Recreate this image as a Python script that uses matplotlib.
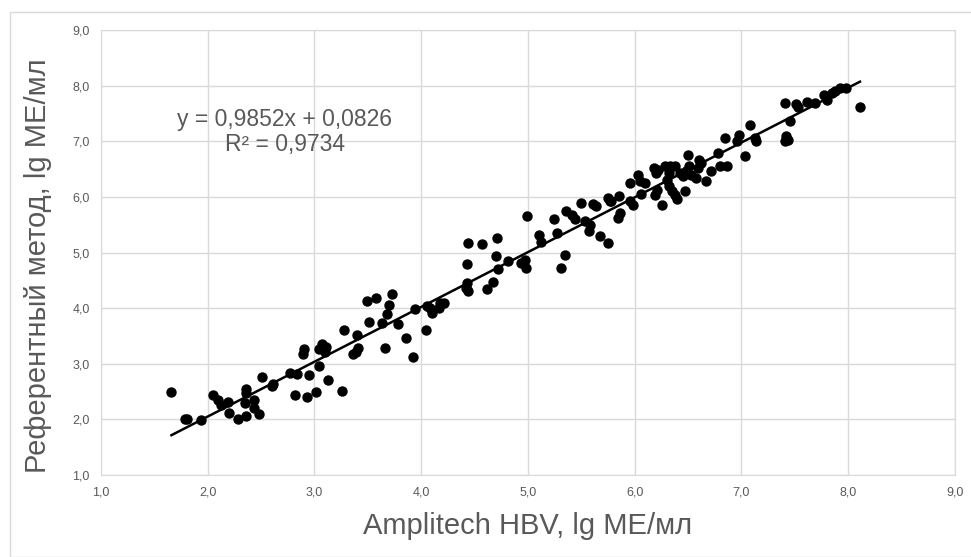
import numpy as np
import matplotlib.pyplot as plt
from matplotlib.patches import Rectangle

# Amplitech HBV (x) vs референтный метод (y), lg МЕ/мл
x = [1.66, 1.79, 1.81, 1.94, 2.05, 2.10, 2.12, 2.19, 2.20, 2.28, 2.36, 2.36, 2.36, 2.35,
     2.43, 2.43, 2.48, 2.51, 2.61, 2.60, 2.77, 2.84, 2.82, 2.93, 2.95, 3.01, 3.04, 3.13,
     3.26, 2.89, 2.90, 3.04, 3.07, 3.11, 3.10, 3.28, 3.36, 3.39, 3.41, 3.40, 3.49, 3.58,
     3.73, 3.70, 3.68, 3.51, 3.63, 3.78, 3.66, 3.86, 3.92, 4.04, 3.94, 4.05, 4.08, 4.10,
     4.18, 4.21, 4.17, 4.44, 4.57, 4.71, 4.43, 4.70, 4.72, 4.81, 4.43, 4.44, 4.42, 4.62,
     4.67, 4.99, 4.93, 4.97, 4.98, 5.10, 5.12, 5.24, 5.27, 5.35, 5.31, 5.36, 5.41, 5.44,
     5.50, 5.61, 5.64, 5.77, 5.53, 5.58, 5.57, 5.67, 5.75, 5.86, 5.84, 5.75, 5.78, 5.85,
     5.98, 5.96, 5.96, 6.03, 6.05, 6.10, 6.06, 6.19, 6.21, 6.26, 6.18, 6.22, 6.20, 6.28,
     6.33, 6.38, 6.32, 6.30, 6.32, 6.35, 6.38, 6.40, 6.42, 6.45, 6.48, 6.50, 6.51, 6.47,
     6.53, 6.57, 6.59, 6.62, 6.60, 6.67, 6.71, 6.78, 6.80, 6.86, 7.41, 7.51, 7.53, 7.61,
     7.69, 7.77, 7.80, 7.85, 7.88, 7.92, 7.98, 8.11, 7.45, 7.42, 7.44, 7.41, 7.08, 6.98,
     7.13, 7.14, 6.85, 6.96, 7.03]
y = [2.49, 2.01, 2.01, 1.99, 2.44, 2.35, 2.26, 2.32, 2.11, 2.01, 2.06, 2.54, 2.47, 2.29,
     2.35, 2.20, 2.09, 2.76, 2.64, 2.60, 2.84, 2.82, 2.44, 2.40, 2.80, 2.50, 2.96, 2.71,
     2.51, 3.18, 3.26, 3.26, 3.36, 3.30, 3.22, 3.61, 3.18, 3.22, 3.28, 3.52, 4.13, 4.19,
     4.26, 4.06, 3.90, 3.76, 3.73, 3.72, 3.29, 3.47, 3.13, 3.61, 3.99, 4.04, 4.00, 3.91,
     4.10, 4.10, 4.00, 5.18, 5.15, 5.27, 4.79, 4.93, 4.70, 4.85, 4.45, 4.31, 4.36, 4.35,
     4.47, 5.66, 4.81, 4.87, 4.73, 5.32, 5.19, 5.60, 5.36, 4.96, 4.73, 5.74, 5.68, 5.60,
     5.90, 5.87, 5.84, 5.92, 5.57, 5.50, 5.39, 5.30, 5.18, 5.72, 5.63, 5.99, 5.93, 6.01,
     5.86, 5.92, 6.25, 6.40, 6.28, 6.26, 6.05, 6.04, 6.13, 5.86, 6.52, 6.49, 6.43, 6.55,
     6.56, 6.55, 6.43, 6.31, 6.19, 6.10, 6.04, 5.96, 6.43, 6.37, 6.46, 6.76, 6.55, 6.11,
     6.40, 6.34, 6.52, 6.61, 6.67, 6.28, 6.47, 6.79, 6.56, 6.56, 7.69, 7.67, 7.62, 7.71,
     7.69, 7.83, 7.74, 7.86, 7.91, 7.95, 7.95, 7.62, 7.37, 7.10, 7.03, 7.00, 7.29, 7.12,
     7.06, 7.00, 7.06, 7.00, 6.74]

slope, intercept = 0.9852, 0.0826
eq_text = "y = 0,9852x + 0,0826\nR² = 0,9734"
ticks = np.arange(1, 9.01, 1)
tick_labels = [f"{t:.1f}".replace(".", ",") for t in ticks]

plt.rcParams['font.family'] = ['Liberation Sans Narrow', 'Liberation Sans', 'DejaVu Sans']

fig = plt.figure(figsize=(9.71, 5.57), dpi=100)
ax = fig.add_axes([0.104, 0.147, 0.8795, 0.799])

# рамка диаграммы
fig.patches.append(Rectangle((10 / 971, 0), 1, 1 - 12 / 557, transform=fig.transFigure,
                             fill=False, edgecolor='#d9d9d9', linewidth=1))

ax.scatter(x, y, s=42, color='black', zorder=3)
xx = np.array([min(x), max(x)])
ax.plot(xx, slope * xx + intercept, color='black', linewidth=1.8, zorder=4)

ax.set_xlim(1, 9)
ax.set_ylim(1, 9)
ax.set_xticks(ticks)
ax.set_yticks(ticks)
ax.set_xticklabels(tick_labels)
ax.set_yticklabels(tick_labels)
ax.tick_params(length=0, labelsize=9, colors='#595959', pad=8)
ax.grid(color='#d9d9d9', linewidth=1)
ax.set_axisbelow(True)
for sp in ax.spines.values():
    sp.set_color('#d9d9d9')

ax.set_xlabel('Amplitech HBV, lg МЕ/мл', fontsize=21, color='#595959', labelpad=10)
ax.set_ylabel('Референтный метод, lg МЕ/мл', fontsize=21, color='#595959')
ax.yaxis.set_label_coords(-0.057, 0.47)

ax.text(2.72, 7.17, eq_text, fontsize=16.5, color='#595959', ha='center', va='center',
        linespacing=1.1)

fig.savefig('out.png', dpi=100)
